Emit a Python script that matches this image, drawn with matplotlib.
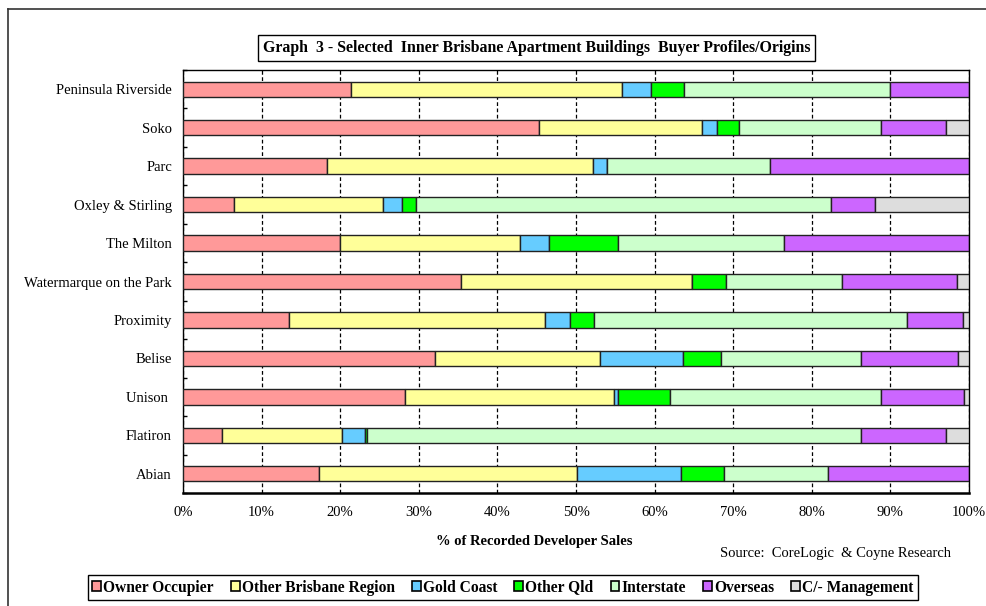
import matplotlib.pyplot as plt
import numpy as np
from matplotlib.patches import Patch
from matplotlib.lines import Line2D

plt.rcParams['font.family'] = ['Liberation Serif', 'DejaVu Serif']

# buildings, top to bottom as in the chart
buildings = ["Peninsula Riverside", "Soko", "Parc", "Oxley & Stirling", "The Milton",
             "Watermarque on the Park", "Proximity", "Belise", "Unison ", "Flatiron", "Abian"]

# share of recorded developer sales (%)
owner_occupier = [21.4, 45.3, 18.3, 6.5, 20.0, 35.4, 13.5, 32.1, 28.2, 4.9, 17.3]
other_brisbane = [34.5, 20.7, 33.9, 18.9, 22.9, 29.4, 32.5, 21.0, 26.6, 15.3, 32.8]
gold_coast = [3.6, 1.9, 1.7, 2.4, 3.7, 0.0, 3.2, 10.5, 0.6, 2.9, 13.2]
other_qld = [4.3, 2.9, 0.0, 1.8, 8.8, 4.3, 3.1, 4.8, 6.5, 0.3, 5.5]
interstate = [26.2, 18.0, 20.8, 52.9, 21.1, 14.7, 39.8, 17.8, 26.9, 62.8, 13.3]
overseas = [10.0, 8.3, 25.3, 5.6, 23.5, 14.7, 7.1, 12.4, 10.6, 10.9, 17.9]
management = [0.0, 2.9, 0.0, 11.9, 0.0, 1.5, 0.8, 1.4, 0.6, 2.9, 0.0]

series_names = ["Owner Occupier", "Other Brisbane Region", "Gold Coast", "Other Qld",
                "Interstate", "Overseas", "C/- Management"]
series_colors = ["#FF9999", "#FFFF99", "#66CCFF", "#00FF00", "#CCFFCC", "#CC66FF", "#DDDDDD"]
x_ticks = [0, 10, 20, 30, 40, 50, 60, 70, 80, 90, 100]
x_labels = ["0%", "10%", "20%", "30%", "40%", "50%", "60%", "70%", "80%", "90%", "100%"]

series = [owner_occupier, other_brisbane, gold_coast, other_qld, interstate, overseas, management]

fig = plt.figure(figsize=(9.87, 6.06), dpi=100)
ax = fig.add_axes([183 / 987, 113 / 606, 786 / 987, 423 / 606])

y_pos = np.arange(len(buildings))[::-1]
left = np.zeros(len(buildings))
for vals, color in zip(series, series_colors):
    vals = np.array(vals)
    ax.barh(y_pos, vals, left=left, height=0.4, color=color, edgecolor="#222222", linewidth=1.0, zorder=3)
    left = left + vals

ax.set_xlim(0, 100)
ax.set_ylim(-0.5, len(buildings) - 0.5)
ax.set_yticks(y_pos)
ax.set_yticklabels(buildings, fontsize=10.5)
ax.set_yticks(np.arange(len(buildings) + 1) - 0.5, minor=True)
ax.tick_params(axis="y", which="major", length=0, pad=8)
ax.tick_params(axis="y", which="minor", length=3, direction="in", width=1)
ax.set_xticks(x_ticks)
ax.set_xticklabels(x_labels, fontsize=10.5)
ax.tick_params(axis="x", length=0, pad=9)
ax.grid(axis="x", color="black", linestyle=(0, (3, 2)), linewidth=0.9, zorder=1)

for side in ["left", "right", "top"]:
    ax.spines[side].set_linewidth(1.0)
ax.spines["bottom"].set_linewidth(1.8)

# title in a box
fig.text(537 / 987, 1 - 48 / 606, "Graph  3 - Selected  Inner Brisbane Apartment Buildings  Buyer Profiles/Origins",
         ha="center", va="center", fontsize=11.4, fontweight="bold",
         bbox=dict(boxstyle="square,pad=0.3", facecolor="white", edgecolor="black", linewidth=1))

fig.text(534 / 987, 1 - 542 / 606, "% of Recorded Developer Sales", ha="center", va="center",
         fontsize=10.5, fontweight="bold")
fig.text(836 / 987, 1 - 553 / 606, "Source:  CoreLogic  & Coyne Research", ha="center", va="center", fontsize=10.5)

handles = [Patch(facecolor=c, edgecolor="black", linewidth=1.2, label=n) for n, c in zip(series_names, series_colors)]
leg = fig.legend(handles=handles, loc="center", bbox_to_anchor=(503 / 987, 1 - 587.5 / 606), ncol=7,
                 prop={"weight": "bold", "size": 11.2}, handlelength=0.55, handleheight=0.55, handletextpad=0.15,
                 columnspacing=1.1, fancybox=False, edgecolor="black", framealpha=1, borderpad=0.3)
leg.get_frame().set_linewidth(1.0)

# outer border of the page
fig.add_artist(Line2D([8 / 987, 1.0], [1 - 9 / 606, 1 - 9 / 606], color="#333333", linewidth=1.2))
fig.add_artist(Line2D([8 / 987, 8 / 987], [0.0, 1 - 9 / 606], color="#333333", linewidth=1.2))

fig.savefig("out.png", dpi=100)
